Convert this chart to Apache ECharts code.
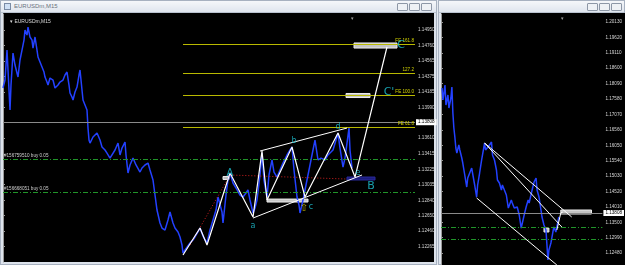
<!DOCTYPE html>
<html><head><meta charset="utf-8">
<script src="https://cdn.jsdelivr.net/npm/echarts@6/dist/echarts.min.js"></script>
<style>
html,body{margin:0;padding:0;background:#e4e9f0;width:625px;height:265px;overflow:hidden;font-family:"Liberation Sans",sans-serif}
.win{position:absolute;background:#dde3ec;border:1px solid #a7b1c0;box-sizing:border-box}
.tb{position:absolute;left:0;right:0;top:0;height:11px;background:linear-gradient(#f5f7fa,#dfe5ee);border-bottom:1px solid #b9c2cf}
.black{position:absolute;background:#000}
.btn{position:absolute;top:2px;width:11px;height:8px;border:1px solid #8d97a6;background:#eef1f5;box-sizing:border-box;border-radius:1px}
.ttl{position:absolute;left:13px;top:2px;font-size:6px;color:#6a7280}
.ico{position:absolute;left:3px;top:2px;width:7px;height:7px;border:1px solid #7a8ba5;box-sizing:border-box;background:#cfe0f5}
#chart{position:absolute;left:0;top:0;width:625px;height:265px}
</style></head>
<body>
<div class="win" style="left:0;top:0;width:437px;height:265px"><div class="tb"></div><div class="ico"></div><div class="ttl">EURUSDm,M15</div>
<div class="btn" style="left:396px"></div><div class="btn" style="left:408px"></div><div class="btn" style="left:420px"></div></div>
<div class="black" style="left:3px;top:13px;width:431px;height:249px"></div>
<div class="win" style="left:438px;top:0;width:187px;height:265px"><div class="tb"></div>
<div class="btn" style="left:148px"></div><div class="btn" style="left:160px"></div><div class="btn" style="left:172px"></div></div>
<div class="black" style="left:441px;top:13px;width:184px;height:252px"></div>
<div id="chart"></div>
<script>
// ---------- data ----------
const symbolName = 'EURUSDm,M15';
const leftTicks = [1.14950,1.14760,1.14565,1.14375,1.14185,1.13990,1.13610,1.13415,1.13225,1.13035,1.12840,1.12650,1.12460,1.12265,1.12075];
const rightTicks = [1.20130,1.19620,1.19110,1.18600,1.18090,1.17580,1.17070,1.16560,1.16050,1.15540,1.15030,1.14520,1.14010,1.13500,1.12990,1.12480];
const currentPrice = 1.13808;

const leftBars = [0,2,4,5,7,8,10,12,15,17, 19,21,22,24,25,27,29,30,32,34, 35,37,39,41,42,44,45,47,50,52,
 55,57,60,62,64,66,67,69,70,72, 74,76,77,79,80,82,84,85,86,87, 90,94,97,99,102,104,107,109,112,115,
 117,119,122,123,125,127,130,133,137,139, 142,145,147,150,152,154,157,159,162,165, 167,170,172,175,177,179,180,182,184,187,
 190,192,195,197,200,204,207,210,213,215, 217,219,220,223,225,227,230,233,237,240, 243,245,247,250,252,254,257,259,261,264,
 266,269,271,274,277,280,284,287,289,291, 294,296,297,300,304,307,310,312,315,318, 322,325,328,330,333,335,337,340,342,344, 346,347,349];
const leftPrices = [1.14232,1.14331,1.14702,1.14455,1.13959,1.14269,1.14665,1.14517,1.14368,1.14579,
 1.14702,1.14826,1.14950,1.14888,1.14987,1.14864,1.14826,1.14727,1.14864,1.14702,
 1.14616,1.14554,1.14492,1.14430,1.14368,1.14306,1.14269,1.14356,1.14331,1.14232,
 1.14269,1.14306,1.14331,1.14393,1.14430,1.14269,1.14170,1.14120,1.14083,1.14182,
 1.14244,1.14393,1.14455,1.14207,1.14083,1.14021,1.13959,1.13736,1.13587,1.13550,
 1.13625,1.13674,1.13587,1.13501,1.13464,1.13426,1.13364,1.13340,1.13464,1.13550,
 1.13402,1.13488,1.13563,1.13402,1.13179,1.13278,1.13364,1.13278,1.13191,1.13241,
 1.13278,1.13302,1.13216,1.13092,1.12906,1.12720,1.12559,1.12497,1.12472,1.12596,
 1.12695,1.12559,1.12497,1.12448,1.12386,1.12286,1.12187,1.12225,1.12225,1.12311,
 1.12348,1.12386,1.12448,1.12497,1.12398,1.12311,1.12472,1.12596,1.12720,1.12881,
 1.12881,1.12695,1.12559,1.12906,1.13092,1.13179,1.13055,1.12993,1.12906,1.12881,
 1.12931,1.12968,1.12844,1.12683,1.12745,1.12844,1.13154,1.13426,1.13092,1.12881,
 1.13154,1.13340,1.13191,1.13129,1.13216,1.13302,1.13402,1.13464,1.13501,1.13216,
 1.12881,1.12782,1.12683,1.12844,1.13092,1.13278,1.13464,1.13587,1.13340,1.13364,
 1.13340,1.13402,1.13439,1.13464,1.13587,1.13674,1.13488,1.13253,1.13364,1.13550,
 1.13736,1.13464,1.13241];

const rightBars = [1,2,4,5,7,8,10,11,12,13, 14,15,16,18,19,21,22,24,26,27, 29,31,32,34,36,37,39,41,44,45,
 47,49,51,52,54,56,57,59,61,62, 64,66,68,69,71,72,74,77,79,81, 82,84,86,88,89,92,94,96,97,99,
 101,102,104,106,107,108,109,111,113,114, 116,117,119];
const rightPrices = [1.17945,1.17548,1.18045,1.17383,1.17714,1.17283,1.17614,1.17979,1.17118,1.16621,
 1.16323,1.15959,1.15794,1.16059,1.15893,1.15628,1.15463,1.15066,1.14668,1.14966,
 1.15132,1.15297,1.15231,1.14735,1.14337,1.14735,1.15132,1.15562,1.16125,1.15893,
 1.15893,1.16059,1.16158,1.15728,1.15562,1.15231,1.14900,1.14801,1.14569,1.14735,
 1.14801,1.14404,1.13973,1.13907,1.14238,1.14139,1.13973,1.14007,1.13742,1.13311,
 1.13245,1.13742,1.14007,1.14238,1.14139,1.14569,1.14834,1.14966,1.14569,1.14337,
 1.13907,1.13676,1.13411,1.13245,1.12749,1.12252,1.12583,1.12815,1.13179,1.13345,
 1.13179,1.13245,1.13676];

// Elliott wave zigzag (left)
const waveBars = [180,197,204,227,250,259,264,289,302,335,352,384];
const wavePrices = [1.12163,1.12497,1.12286,1.13179,1.12633,1.13451,1.12844,1.13501,1.12881,1.13674,1.13129,1.14740];
// triangle trendlines (left)
const triUpperBars = [257,344], triUpperPrices = [1.13451,1.13736];
const triLowerBars = [250,359], triLowerPrices = [1.12621,1.13154];
// red dotted path
const redBars = [187,227,344], redPrices = [1.12286,1.13154,1.13104];
// Fibonacci expansion levels
const fiboNames = ['FE 161.8','127.2','FE 100.0','FE 61.8'];
const fiboLevels = [1.14777,1.14418,1.14145,1.13748];
const fiboStartBar = 180;
// pending orders
const orderNames = ['#156759510 buy 0.05','#156668051 buy 0.05'];
const orderLevels = [1.13352,1.12943];
// target boxes
const boxBars1 = [351,343,220,264,344];
const boxBars2 = [394,367,226,305,372];
const boxTop = [1.14790,1.14164,1.13135,1.12856,1.13129];
const boxBottom = [1.14727,1.14114,1.13098,1.12819,1.13092];
const boxColors = ['#c4c4c4','#c8c8c8','#bdbdbd','#c8c8c8','#1c1c7c'];
// wave labels
const labelTexts = ['A','a','b','c','d','e','B',"C'",'C'];
const labelBars = [227,250,291,308,335,355,368,386,398];
const labelPrices = [1.13179,1.12522,1.13575,1.12757,1.13748,1.13179,1.13017,1.14182,1.14764];
const labelSizes = [10,8,8,8,8,8,11,11,11];
const arrowBar = 301, arrowPrice = 1.12745;
// right chart channel lines
const chanBars = [[44,132],[44,122],[36,117],[117,121,123]];
const chanPrices = [[1.16125,1.13676],[1.16125,1.13345],[1.14304,1.12087],[1.13245,1.13808,1.13841]];
const rBoxBars1 = [121,104], rBoxBars2 = [152,109];
const rBoxTop = [1.13907,1.13311], rBoxBottom = [1.13775,1.13179];

// ---------- build ----------
const zip = (a,b)=>a.map((v,i)=>[v,b[i]]);
const axisCol = '#9a9a9a';
const lblFont = {fontSize:4.6,color:'#d6d6d6',fontFamily:'Liberation Sans'};
function yAx(grid,min,max,ticks){
  return {gridIndex:grid,type:'value',position:'right',min:min,max:max,scale:true,
    splitLine:{show:false},
    axisLine:{show:true,lineStyle:{color:axisCol,width:1}},
    axisTick:{show:true,length:2,inside:false,customValues:ticks,lineStyle:{color:axisCol}},
    axisLabel:Object.assign({show:true,margin:3,customValues:ticks,formatter:v=>v.toFixed(5)},lblFont)};
}
function curLine(){
  return {symbol:['none','none'],silent:true,animation:false,precision:5,
    lineStyle:{color:'#8a8a8a',type:'solid',width:1},
    label:{show:true,position:'end',distance:1,formatter:currentPrice.toFixed(5),backgroundColor:'#ffffff',color:'#000',fontSize:4.6,padding:[1,2,0,2]},
    data:[{yAxis:currentPrice}]};
}
const orderLines = (withLabel)=>({symbol:['none','none'],silent:true,animation:false,precision:5,
    lineStyle:{color:'#21952a',type:[5,2,1,2],width:1},
    label:{show:withLabel,position:'insideStartTop',distance:1,formatter:'{b}',color:'#cfcfcf',fontSize:4.6},
    data:orderLevels.map((v,i)=>({yAxis:v,name:orderNames[i]}))});

const option = {
  animation:false,
  backgroundColor:'transparent',
  title:[
    {text:'▾ '+symbolName,left:5,top:14,textStyle:{color:'#dcdcdc',fontSize:5,fontWeight:'normal',fontFamily:'Liberation Sans'}},
    {text:'▾',left:346,top:11,textStyle:{color:'#a0a0a0',fontSize:5,fontWeight:'normal'}},
    {text:'▾',left:556,top:11,textStyle:{color:'#a0a0a0',fontSize:5,fontWeight:'normal'}}
  ],
  grid:[
    {left:3,top:14,width:412,height:248,show:false},
    {left:441,top:14,width:163,height:251,show:false}
  ],
  xAxis:[
    {gridIndex:0,type:'value',min:0,max:412,show:false},
    {gridIndex:1,type:'value',min:0,max:163,show:false}
  ],
  yAxis:[
    yAx(0,1.12076,1.15149,leftTicks),
    yAx(1,1.12087,1.20395,rightTicks)
  ],
  series:[
    {type:'line',xAxisIndex:0,yAxisIndex:0,data:zip(leftBars,leftPrices),showSymbol:false,
      lineStyle:{color:'#2341ff',width:1.5},z:3,
      markLine:curLine()},
    {type:'line',xAxisIndex:0,yAxisIndex:0,data:zip(leftBars,leftPrices),showSymbol:false,
      lineStyle:{width:0,opacity:0},z:1,
      markLine:orderLines(true),
      markArea:{silent:true,data:boxBars1.map((b,i)=>[{coord:[b,boxTop[i]],itemStyle:{color:boxColors[i],borderColor:i===4?'#2a2a9a':'#ececec',borderWidth:1}},{coord:[boxBars2[i],boxBottom[i]]}])}},
    {type:'line',xAxisIndex:0,yAxisIndex:0,data:zip(waveBars,wavePrices),showSymbol:false,
      lineStyle:{color:'#ffffff',width:1.2},z:5,
      markLine:{symbol:['none','none'],silent:true,precision:5,
        lineStyle:{color:'#b9b900',type:'solid',width:1},
        label:{show:true,position:'insideEndTop',distance:1,formatter:'{b}',color:'#d4d400',fontSize:4.6},
        data:fiboLevels.map((v,i)=>[{name:fiboNames[i],coord:[fiboStartBar,v]},{coord:[412,v]}])}},
    {type:'line',xAxisIndex:0,yAxisIndex:0,data:zip(triUpperBars,triUpperPrices),showSymbol:false,lineStyle:{color:'#fff',width:1},z:5},
    {type:'line',xAxisIndex:0,yAxisIndex:0,data:zip(triLowerBars,triLowerPrices),showSymbol:false,lineStyle:{color:'#fff',width:1},z:5},
    {type:'line',xAxisIndex:0,yAxisIndex:0,data:zip(redBars,redPrices),showSymbol:false,lineStyle:{color:'#d42020',width:1,type:[1,2]},z:4},
    {type:'scatter',xAxisIndex:0,yAxisIndex:0,symbolSize:0,z:8,
      label:{show:true,position:'inside',formatter:'{b}',color:'#1ec6d6',fontFamily:'DejaVu Sans'},
      data:labelTexts.map((t,i)=>({name:t,value:[labelBars[i],labelPrices[i]],label:{fontSize:labelSizes[i]}}))},
    {type:'scatter',xAxisIndex:0,yAxisIndex:0,symbolSize:0,z:8,
      label:{show:true,position:'inside',formatter:'⇧',color:'#e0d000',fontSize:10,fontFamily:'DejaVu Sans'},
      data:[[arrowBar,arrowPrice]]},
    // right chart
    {type:'line',xAxisIndex:1,yAxisIndex:1,data:zip(rightBars,rightPrices),showSymbol:false,
      lineStyle:{color:'#2341ff',width:1.5},z:3,
      markLine:curLine()},
    {type:'line',xAxisIndex:1,yAxisIndex:1,data:zip(rightBars,rightPrices),showSymbol:false,
      lineStyle:{width:0,opacity:0},z:1,
      markLine:orderLines(false),
      markArea:{silent:true,data:rBoxBars1.map((b,i)=>[{coord:[b,rBoxTop[i]],itemStyle:{color:'#c4c4c4',borderColor:'#ececec',borderWidth:1}},{coord:[rBoxBars2[i],rBoxBottom[i]]}])}},
    ...chanBars.map((bs,k)=>({type:'line',xAxisIndex:1,yAxisIndex:1,data:zip(bs,chanPrices[k]),showSymbol:false,lineStyle:{color:'#fff',width:1},z:5}))
  ]
};
const chart = echarts.init(document.getElementById('chart'),null,{renderer:'canvas'});
chart.setOption(option);
</script>
</body></html>
